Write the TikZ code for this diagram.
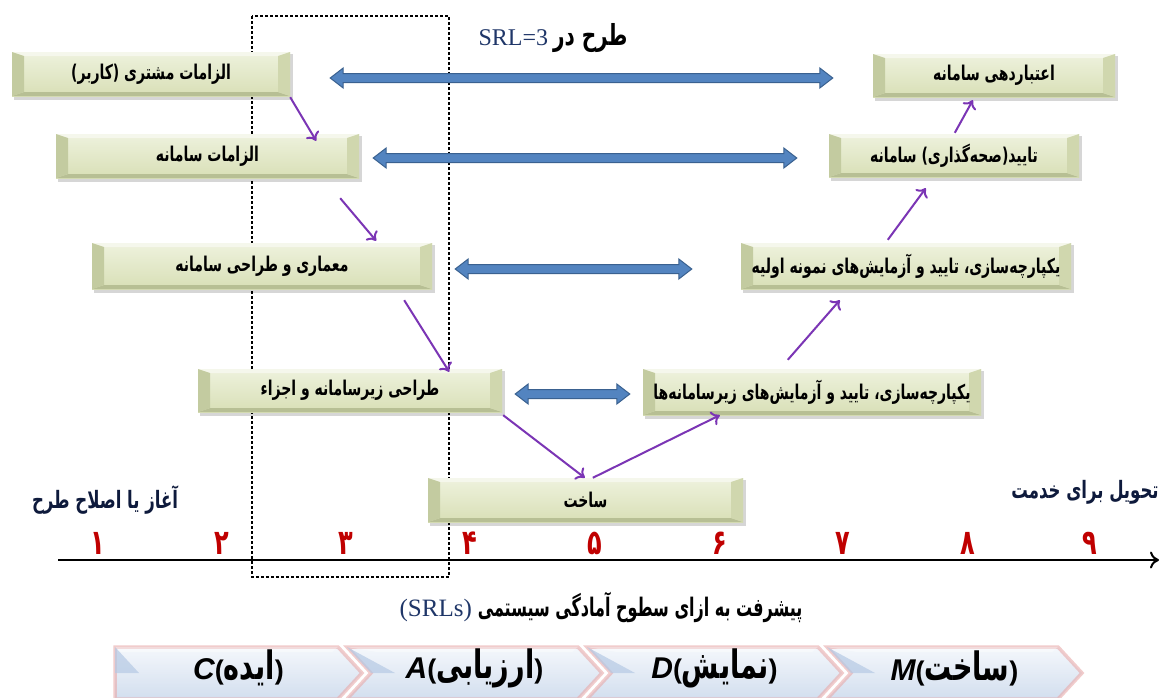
\documentclass[tikz,border=0pt]{standalone}
\usepackage{fontspec}
\usepackage{graphicx}
\usetikzlibrary{calc,arrows.meta}
\TeXXeTstate=1
\newfontfamily\arabicfont[Script=Arabic]{DejaVu Sans}
\newfontfamily\serif{Liberation Serif}
\newfontfamily\latsans{Liberation Sans}
\definecolor{faceT}{HTML}{EEF2DD}
\definecolor{faceB}{HTML}{D8DFB6}
\definecolor{bevL}{HTML}{C3CBA0}
\definecolor{bevR}{HTML}{D0D7AE}
\definecolor{bevT}{HTML}{F5F7EC}
\definecolor{bevB}{HTML}{B7BF94}
\definecolor{blueF}{HTML}{5384C0}
\definecolor{blueD}{HTML}{3A6190}
\definecolor{purp}{HTML}{7B35B5}
\definecolor{numred}{HTML}{C00000}
\definecolor{navy}{HTML}{0E1A3C}
\definecolor{srlblue}{HTML}{1F3668}
\definecolor{chevT}{HTML}{EEF3FA}
\definecolor{chevB}{HTML}{B5C9E4}
\definecolor{chevO}{HTML}{E8AAAA}
\newcommand\fa[1]{\scalebox{1}[1.45]{\arabicfont\bfseries\beginR #1\endR}}
\newcommand\lp{{\latsans\bfseries(}}
\newcommand\rp{{\latsans\bfseries)}}
\newcommand\lat[1]{{\latsans\bfseries\itshape\fontsize{30}{32}\selectfont #1}}
\newcommand\bevbox[6]{%
  \fill[black,opacity=.16] ({#2+2},{#3+2}) rectangle ({#4+3},{#5+4});
  \shade[top color=faceT,bottom color=faceB] (#2,#3) rectangle (#4,#5);
  \fill[bevT] (#2,#3) -- (#4,#3) -- ({#4-12},{#3+4}) -- ({#2+12},{#3+4}) -- cycle;
  \fill[bevB] (#2,#5) -- (#4,#5) -- ({#4-12},{#5-4}) -- ({#2+12},{#5-4}) -- cycle;
  \fill[bevL] (#2,#3) -- ({#2+12},{#3+4}) -- ({#2+12},{#5-4}) -- (#2,#5) -- cycle;
  \fill[bevR] (#4,#3) -- ({#4-12},{#3+4}) -- ({#4-12},{#5-4}) -- (#4,#5) -- cycle;
  \node[boxtext,minimum width={#4-#2},minimum height={#5-#3}] (#1) at ({(#2+#4)/2},{(#3+#5)/2}) {\fa{#6}};
}
\newcommand\dblarrow[2]{%
  \path[blockarr] let \p1=(#1), \p2=(#2) in
    (\x1,\y1) -- (\x1+13pt,\y1+10pt) -- (\x1+13pt,\y1+4.5pt) -- (\x2-13pt,\y2+4.5pt)
    -- (\x2-13pt,\y2+10pt) -- (\x2,\y2) -- (\x2-13pt,\y2-10pt) -- (\x2-13pt,\y2-4.5pt)
    -- (\x1+13pt,\y1-4.5pt) -- (\x1+13pt,\y1-10pt) -- cycle;
}
\newcommand\chev[5]{% name, x1, x2, notch, text
  \path[draw=chevO,line width=3.5pt,opacity=.6,top color=chevT,bottom color=chevB]
    (#2,647) -- ({#3-24},647) -- (#3,673) -- ({#3-24},699) -- (#2,699) -- ({#2+#4},673) -- cycle;
  \fill[white,opacity=.35] (#2,647) -- ({#3-24},647) -- ({#3-30},652) -- ({#2+#4+6},652) -- cycle;
  \fill[chevB,opacity=.7] (#2,647) -- ({#2+#4+24},673) -- ({#2+#4},673) -- cycle;
  \node[chevtext] (#1) at ({(#2+#3)/2},668) {#5};
}
\tikzset{
  boxtext/.style={inner sep=0pt,font=\fontsize{14}{16}\selectfont,text=black},
  blockarr/.style={fill=blueF,draw=blueD,line width=1pt},
  parrow/.style={draw=purp,line width=2pt,-{To[length=8pt,width=15pt]}},
  chevtext/.style={font=\fontsize{27}{30}\selectfont,text=black},
  num/.style={text=numred,font=\fontsize{24}{28}\selectfont},
  lab/.style={text=navy,font=\fontsize{16.5}{20}\selectfont}
}
\begin{document}
\begin{tikzpicture}[x=1pt,y=-1pt]
\useasboundingbox (0,0) rectangle (1160,697);
\fill[white] (0,0) rectangle (1160,697);
% dotted SRL=3 frame
\draw[line width=2.6pt,dash pattern=on 2.6pt off 2.4pt] (252,16) rectangle (449,577);
% title
\node[inner sep=0pt] (title) at (553,38) {{\serif\fontsize{24}{28}\selectfont\color{srlblue}SRL=3}\hspace{5pt}{\fontsize{20}{24}\selectfont\fa{طرح در}}};
% boxes
\bevbox{b1}{12}{52}{290}{96}{الزامات مشتری (کاربر)}
\bevbox{b2}{56}{134}{359}{178}{الزامات سامانه}
\bevbox{b3}{92}{243}{432}{289}{معماری و طراحی سامانه}
\bevbox{b4}{198}{369}{502}{412}{طراحی زیرسامانه و اجزاء}
\bevbox{b5}{428}{478}{743}{522}{ساخت}
\bevbox{b6}{643}{369}{981}{415}{یکپارچه‌سازی، تایید و آزمایش‌های زیرسامانه‌ها}
\bevbox{b7}{741}{243}{1071}{289}{یکپارچه‌سازی، تایید و آزمایش‌های نمونه اولیه}
\bevbox{b8}{829}{134}{1079}{177}{تایید(صحه‌گذاری) سامانه}
\bevbox{b9}{873}{54}{1115}{97}{اعتباردهی سامانه}
% blue double arrows
\coordinate (a1l) at ([shift={(40,4)}]b1.east);
\coordinate (a1r) at ([shift={(-40,2.5)}]b9.west);
\coordinate (a2l) at ([shift={(14,2)}]b2.east);
\coordinate (a2r) at ([shift={(-32,2.5)}]b8.west);
\coordinate (a3l) at ([shift={(23,3)}]b3.east);
\coordinate (a3r) at ([shift={(-49,3)}]b7.west);
\coordinate (a4l) at ([shift={(13,3.5)}]b4.east);
\coordinate (a4r) at ([shift={(-13,2)}]b6.west);
\dblarrow{a1l}{a1r}
\dblarrow{a2l}{a2r}
\dblarrow{a3l}{a3r}
\dblarrow{a4l}{a4r}
% purple flow arrows
\draw[parrow] ([shift={(0,1)}]b1.south east) -- ([shift={(-43,7)}]b2.north east);
\draw[parrow] ([shift={(-19,20)}]b2.south east) -- ([shift={(-56,-2)}]b3.north east);
\draw[parrow] ([shift={(-28,11)}]b3.south east) -- ([shift={(-53,3)}]b4.north east);
\draw[parrow] ([shift={(1,3)}]b4.south east) -- ([shift={(157,0)}]b5.north west);
\draw[parrow] ([shift={(165,0)}]b5.north west) -- ([shift={(77,0)}]b6.south west);
\draw[parrow] ([shift={(145,-9)}]b6.north west) -- ([shift={(99,11)}]b7.south west);
\draw[parrow] ([shift={(147,-3)}]b7.north west) -- ([shift={(97,11)}]b8.south west);
\draw[parrow] ([shift={(126,-1)}]b8.north west) -- ([shift={(100,3)}]b9.south west);
% timeline
\coordinate (t0) at (58,560);
\coordinate (t1) at (1159,560);
\draw[line width=2.4pt,-{To[length=9pt,width=17pt,line width=2pt]}] (t0) -- (t1);
\node[lab] (start) at (105,500) {\fa{آغاز یا اصلاح طرح}};
\node[lab] (end) at (1085,492) {\fa{تحویل برای خدمت}};
\node[num] (n1) at (98,543) {\fa{۱}};
\node[num] (n2) at (222,543) {\fa{۲}};
\node[num] (n3) at (346,543) {\fa{۳}};
\node[num] (n4) at (470,543) {\fa{۴}};
\node[num] (n5) at (595,543) {\fa{۵}};
\node[num] (n6) at (720,543) {\fa{۶}};
\node[num] (n7) at (843,543) {\fa{۷}};
\node[num] (n8) at (968,543) {\fa{۸}};
\node[num] (n9) at (1090,543) {\fa{۹}};
% bottom title
\node[inner sep=0pt] (srls) at (601,607) {{\serif\fontsize{25}{28}\selectfont\color{srlblue}(SRLs)}\hspace{6pt}{\fontsize{16}{20}\selectfont\scalebox{1}[1.1]{\fa{پیشرفت به ازای سطوح آمادگی سیستمی}}}};
% chevrons
\chev{c1}{115}{362}{0}{\lat{C}\lp\fa{ایده}\rp}
\chev{c2}{347}{602}{24}{\lat{A}\lp\fa{ارزیابی}\rp}
\chev{c3}{587}{842}{24}{\lat{D}\lp\fa{نمایش}\rp}
\chev{c4}{827}{1082}{24}{\lat{M}\lp\fa{ساخت}\rp}
\end{tikzpicture}
\end{document}
